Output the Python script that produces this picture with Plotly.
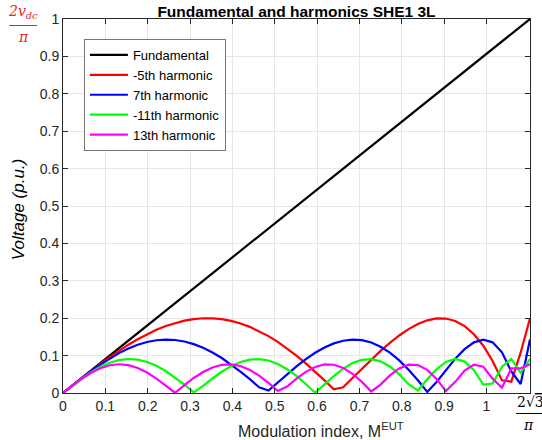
import plotly.graph_objects as go

# modulation index samples (x axis units, 0 .. 2*sqrt(3)/pi)
x_vals = [0, 0.0221, 0.0441, 0.0662, 0.0882, 0.1103, 0.1323, 0.1544, 0.1764, 0.1985,
          0.2205, 0.2426, 0.2646, 0.2867, 0.3087, 0.3308, 0.3529, 0.3749, 0.3970, 0.4190,
          0.4411, 0.4631, 0.4852, 0.5072, 0.5293, 0.5513, 0.5734, 0.5954, 0.6175, 0.6395,
          0.6616, 0.6836, 0.7057, 0.7278, 0.7498, 0.7719, 0.7939, 0.8160, 0.8380, 0.8601,
          0.8821, 0.9042, 0.9262, 0.9483, 0.9703, 0.9924, 1.0144, 1.0365, 1.0586, 1.0806,
          1.1027]

fund_x = [0, 1.1027]
fund_y = [0, 1.0]

h5 = [0, 0.0200, 0.0397, 0.0591, 0.0780, 0.0960, 0.1132, 0.1292, 0.1439, 0.1573,
      0.1691, 0.1791, 0.1873, 0.1935, 0.1977, 0.1998, 0.1997, 0.1973, 0.1927, 0.1859,
      0.1768, 0.1655, 0.1521, 0.1366, 0.1192, 0.1000, 0.0792, 0.0571, 0.0338, 0.0096,
      0.0152, 0.0401, 0.0650, 0.0892, 0.1125, 0.1342, 0.1538, 0.1708, 0.1845, 0.1943,
      0.1994, 0.1991, 0.1925, 0.1789, 0.1572, 0.1264, 0.0857, 0.0338, 0.0303, 0.1078,
      0.2000]

h7 = [0, 0.0199, 0.0395, 0.0583, 0.0760, 0.0921, 0.1066, 0.1189, 0.1289, 0.1363,
      0.1410, 0.1428, 0.1417, 0.1377, 0.1307, 0.1209, 0.1084, 0.0935, 0.0763, 0.0573,
      0.0369, 0.0153, 0.0068, 0.0290, 0.0507, 0.0714, 0.0905, 0.1075, 0.1217, 0.1326,
      0.1398, 0.1428, 0.1413, 0.1350, 0.1238, 0.1078, 0.0872, 0.0624, 0.0340, 0.0029,
      0.0295, 0.0617, 0.0918, 0.1173, 0.1355, 0.1428, 0.1355, 0.1088, 0.0577, 0.0240,
      0.1429]

h11 = [0, 0.0198, 0.0387, 0.0558, 0.0701, 0.0811, 0.0881, 0.0909, 0.0892, 0.0830,
       0.0727, 0.0587, 0.0416, 0.0223, 0.0018, 0.0190, 0.0388, 0.0568, 0.0717, 0.0828,
       0.0893, 0.0908, 0.0869, 0.0777, 0.0637, 0.0455, 0.0241, 0.0008, 0.0229, 0.0454,
       0.0649, 0.0799, 0.0888, 0.0907, 0.0847, 0.0710, 0.0500, 0.0235, 0.0065, 0.0368,
       0.0636, 0.0830, 0.0909, 0.0840, 0.0608, 0.0224, 0.0253, 0.0702, 0.0909, 0.0538,
       0.0909]

h13 = [0, 0.0198, 0.0382, 0.0541, 0.0664, 0.0742, 0.0769, 0.0744, 0.0668, 0.0546,
       0.0385, 0.0196, 0.0007, 0.0211, 0.0401, 0.0562, 0.0683, 0.0754, 0.0767, 0.0721,
       0.0618, 0.0465, 0.0271, 0.0053, 0.0172, 0.0385, 0.0565, 0.0697, 0.0763, 0.0755,
       0.0671, 0.0514, 0.0297, 0.0042, 0.0225, 0.0469, 0.0657, 0.0759, 0.0749, 0.0619,
       0.0377, 0.0052, 0.0298, 0.0599, 0.0760, 0.0702, 0.0384, 0.0142, 0.0657, 0.0661,
       0.0769]

x_tickvals = [0, 0.1, 0.2, 0.3, 0.4, 0.5, 0.6, 0.7, 0.8, 0.9, 1.0, 1.1027]
x_ticktext = ["0", "0.1", "0.2", "0.3", "0.4", "0.5", "0.6", "0.7", "0.8", "0.9", "1", " "]

series = [
    ("Fundamental", fund_x, fund_y, "#000000"),
    ("-5th harmonic", x_vals, h5, "#ff0000"),
    ("7th harmonic", x_vals, h7, "#0000ff"),
    ("-11th harmonic", x_vals, h11, "#00ff00"),
    ("13th harmonic", x_vals, h13, "#ff00ff"),
]

fig = go.Figure()
for name, xs, ys, col in series:
    fig.add_trace(go.Scatter(x=xs, y=ys, mode="lines", name=name,
                             line=dict(color=col, width=2.2)))

axis_common = dict(
    showgrid=True, gridcolor="#e6e6e6", gridwidth=1,
    showline=True, linecolor="#262626", linewidth=1, mirror="ticks",
    ticks="inside", ticklen=5, tickcolor="#262626",
    tickfont=dict(family="Liberation Sans, Arial", size=14, color="#262626"),
    zeroline=False,
)

L, R, T, B = 63, 10, 19, 47
PW, PH = 542 - L - R, 440 - T - B


def px_x(px):
    return (px - L) / PW


def px_y(py):
    return 1 - (py - T) / PH


fig.update_layout(
    width=542, height=440,
    margin=dict(l=L, r=R, t=T, b=B),
    paper_bgcolor="white", plot_bgcolor="white",
    font=dict(family="Liberation Sans, Arial", color="#262626"),
    title=dict(text="<b>Fundamental and harmonics SHE1 3L</b>",
               x=0.5, xref="paper", y=1 - 11.5 / 440, yref="container",
               yanchor="middle", xanchor="center",
               font=dict(size=15.5, color="#000000")),
    xaxis=dict(range=[0, 1.1027], tickvals=x_tickvals, ticktext=x_ticktext,
               **axis_common),
    yaxis=dict(range=[0, 1], dtick=0.1, tick0=0, **axis_common),
    legend=dict(x=px_x(84), y=px_y(39), xanchor="left", yanchor="top",
                bgcolor="white", bordercolor="#777777", borderwidth=1,
                font=dict(family="Liberation Sans, Arial", size=13, color="#000000"),
                tracegroupgap=0, itemwidth=38),
    showlegend=True,
)

# y-axis title
fig.add_annotation(xref="paper", yref="paper", x=px_x(18), y=px_y(210),
                   text="<i>Voltage (p.u.)</i>", showarrow=False, textangle=-90,
                   font=dict(family="Liberation Sans, Arial", size=17, color="#000000"),
                   xanchor="center", yanchor="middle")

# x-axis title
fig.add_annotation(xref="paper", yref="paper", x=px_x(322), y=px_y(430),
                   text="Modulation index, M<sup>EUT</sup>", showarrow=False,
                   font=dict(family="Liberation Sans, Arial", size=16, color="#262626"),
                   xanchor="center", yanchor="middle")

# top-left red unit label 2v_dc / pi
red = "#e8251f"
fig.add_annotation(xref="paper", yref="paper", x=px_x(23), y=px_y(23),
                   text="<i>2v<sub>dc</sub></i>", showarrow=False,
                   font=dict(family="DejaVu Serif", size=14, color=red),
                   xanchor="center", yanchor="bottom")
fig.add_shape(type="line", xref="paper", yref="paper",
              x0=px_x(9), x1=px_x(37), y0=px_y(25.5), y1=px_y(25.5),
              line=dict(color=red, width=1))
fig.add_annotation(xref="paper", yref="paper", x=px_x(23), y=px_y(27),
                   text="<i>π</i>", showarrow=False,
                   font=dict(family="DejaVu Serif", size=14, color=red),
                   xanchor="center", yanchor="top")

# bottom-right label 2√3 / pi
fig.add_annotation(xref="paper", yref="paper", x=px_x(517), y=px_y(412),
                   text="2√<span style='text-decoration:overline'>3</span>", showarrow=False,
                   font=dict(family="DejaVu Serif", size=14, color="#000000"),
                   xanchor="left", yanchor="bottom")
fig.add_shape(type="line", xref="paper", yref="paper",
              x0=px_x(518), x1=px_x(545), y0=px_y(413.5), y1=px_y(413.5),
              line=dict(color="#000000", width=1))
fig.add_annotation(xref="paper", yref="paper", x=px_x(530), y=px_y(415),
                   text="<i>π</i>", showarrow=False,
                   font=dict(family="DejaVu Serif", size=14, color="#000000"),
                   xanchor="center", yanchor="top")

fig.write_html("out.html")
